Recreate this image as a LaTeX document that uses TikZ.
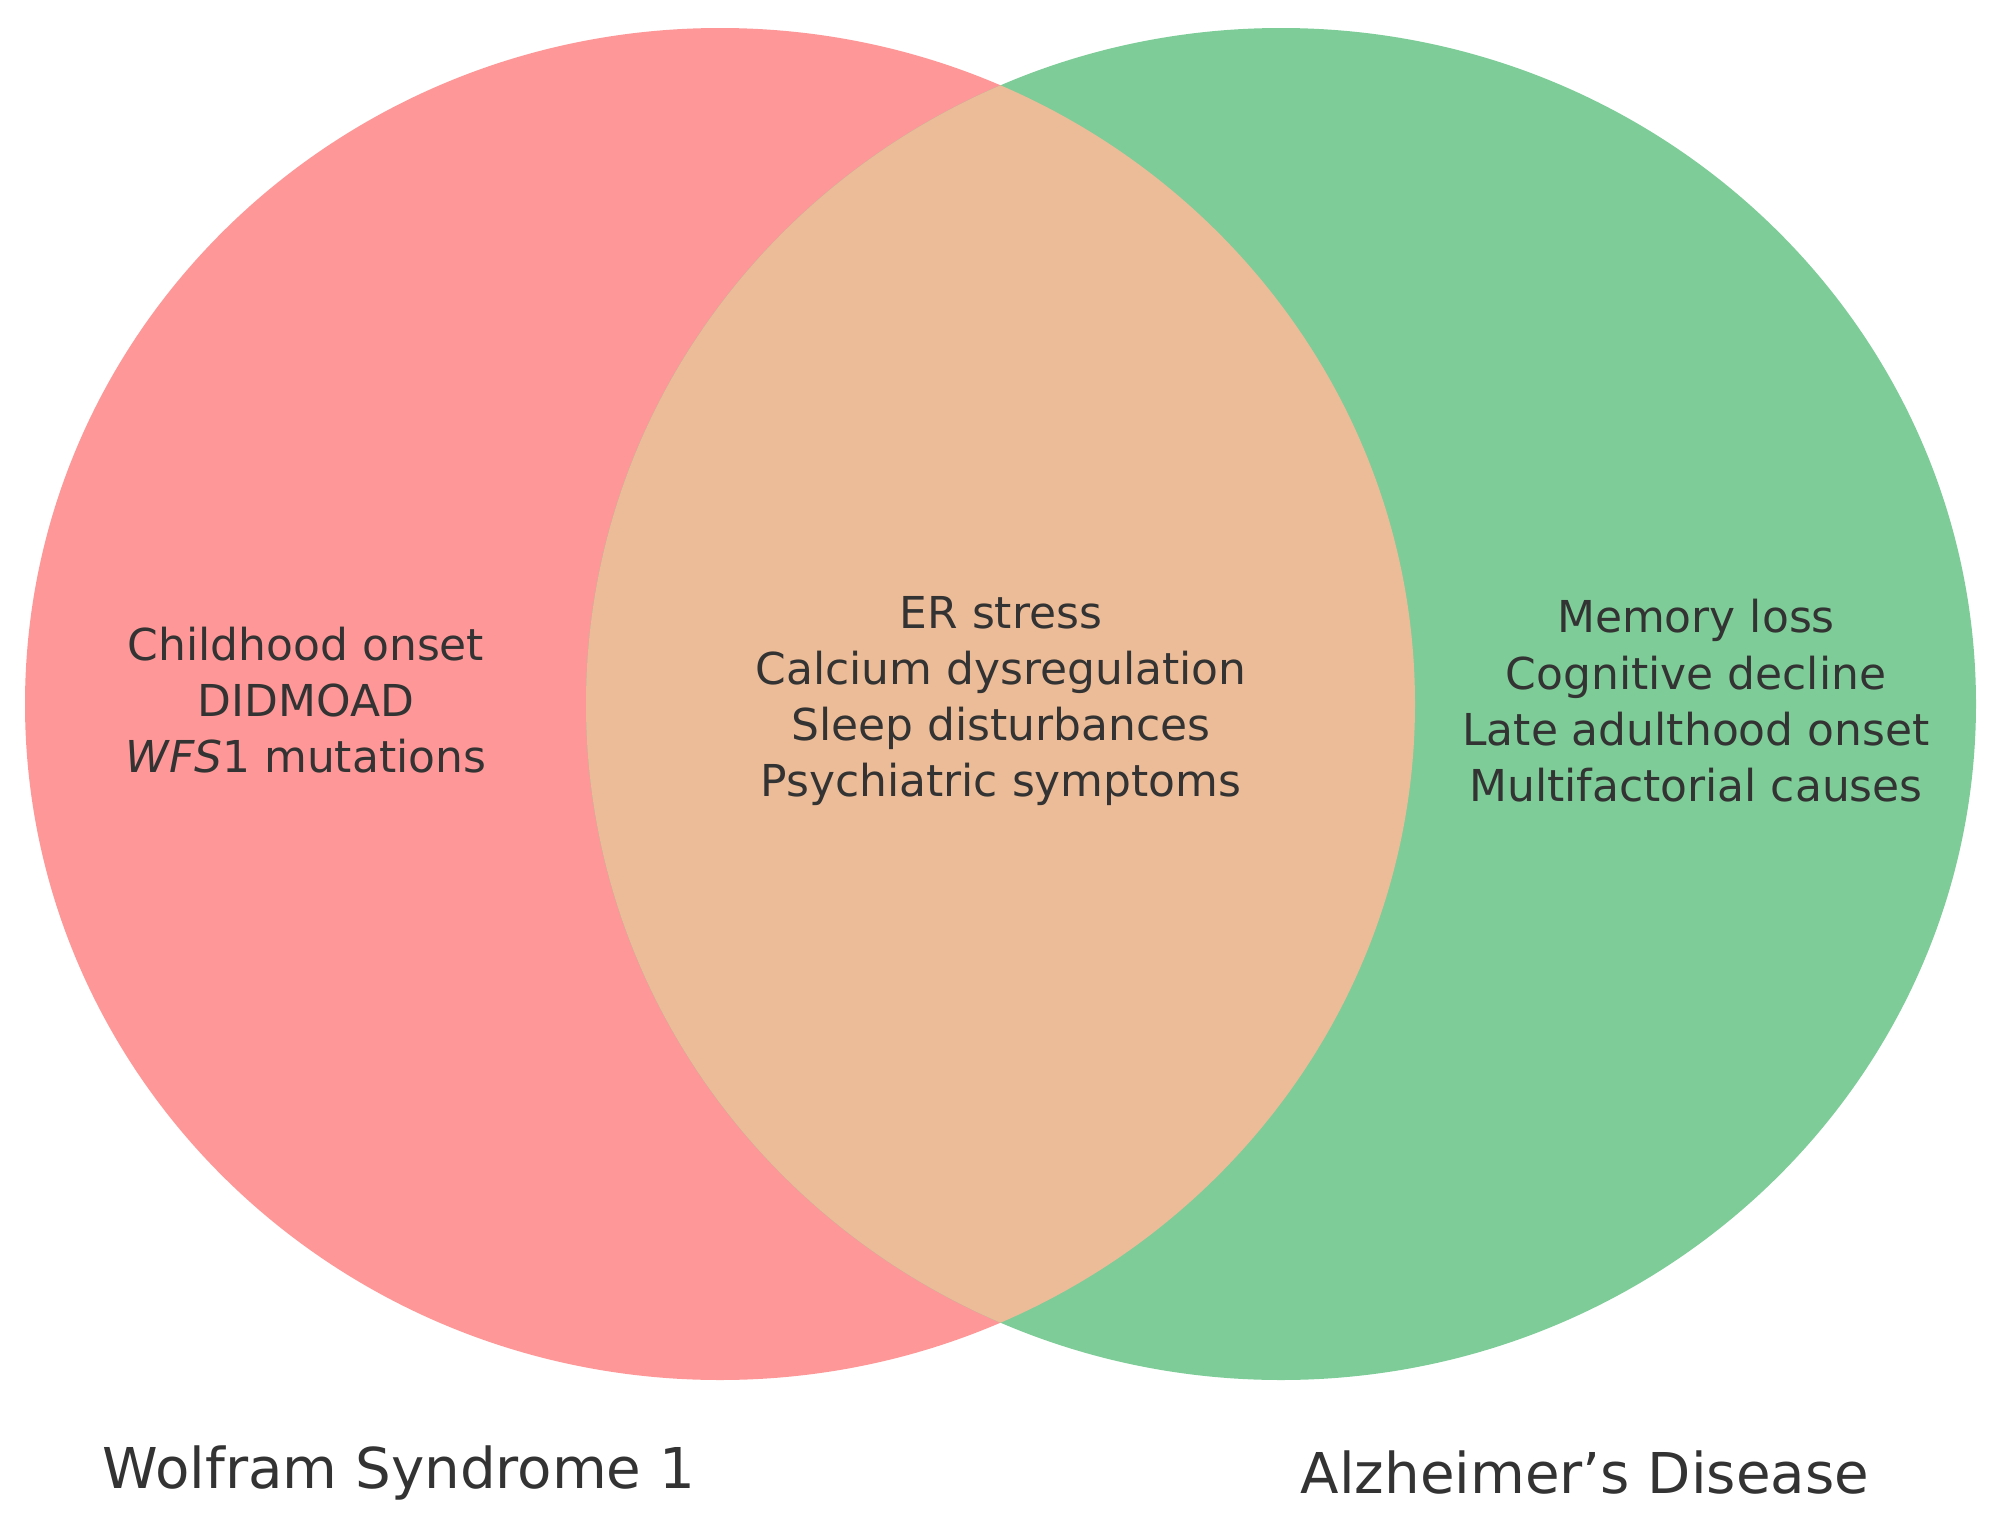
\documentclass[tikz,border=0pt]{standalone}
\usepackage{fontspec}
\setmainfont{DejaVu Sans}
\definecolor{wred}{HTML}{FE9898}
\definecolor{agreen}{HTML}{7ECC98}
\definecolor{both}{HTML}{ECBC98}
\definecolor{txt}{HTML}{333333}
\begin{document}
\begin{tikzpicture}[x=0.01cm,y=-0.01cm,
  body/.style={align=center,text=txt,font=\fontsize{12.5}{16}\selectfont},
  title/.style={text=txt,font=\fontsize{16}{19}\selectfont}]
\useasboundingbox (0,0) rectangle (1999,1527);
\fill[wred] (720,704) ellipse [x radius=695,y radius=676];
\fill[agreen] (1281,704) ellipse [x radius=695,y radius=676];
\begin{scope}
\clip (720,704) ellipse [x radius=695,y radius=676];
\fill[both] (1281,704) ellipse [x radius=695,y radius=676];
\end{scope}
\node[body] (l) at (306,700) {Childhood onset\\DIDMOAD\\\textit{WFS}1 mutations};
\node[body] (m) at (1001,701) {ER stress\\Calcium dysregulation\\Sleep disturbances\\Psychiatric symptoms};
\node[body] (r) at (1696,701) {Memory loss\\Cognitive decline\\Late adulthood onset\\Multifactorial causes};
\node[title] (a) at (399,1473) {Wolfram Syndrome 1};
\node[title] (b) at (1585,1473) {Alzheimer's Disease};
\end{tikzpicture}
\end{document}
